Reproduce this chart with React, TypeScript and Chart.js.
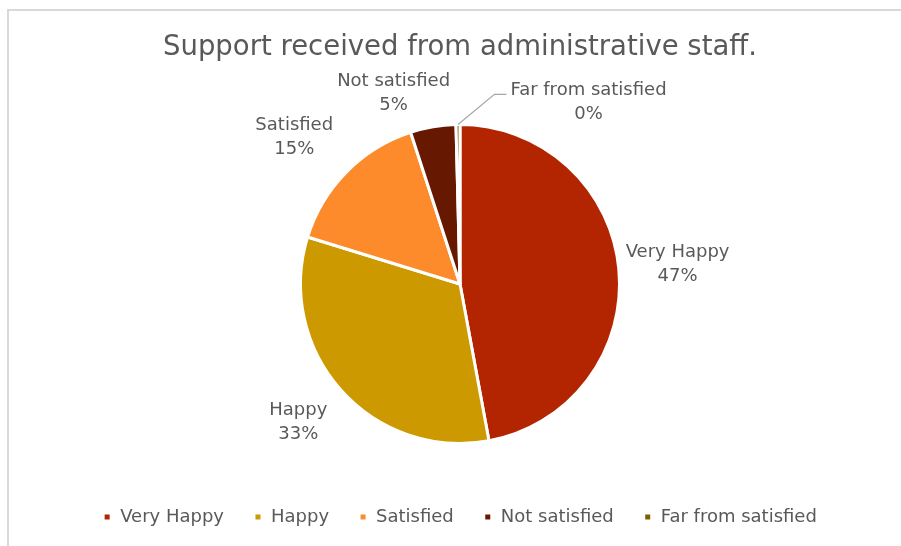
import { useEffect, useRef } from 'react';
import { Chart, registerables } from 'chart.js';

Chart.register(...registerables);

const categories = ['Very Happy', 'Happy', 'Satisfied', 'Not satisfied', 'Far from satisfied'];
const shares = [47, 32.6, 15.2, 4.6, 0.4];
const sliceColors = ['#B32400', '#CC9900', '#FD8A2B', '#661800', '#7F6000'];

// where each data label sits relative to its slice: angle shift (deg) and gap beyond the rim
const labelShift = [0, 1.2, -3, -9.5, 36];
const labelGap = [59, 53, 62, 42, 63];
const leaderLine = [false, false, false, false, true];

const TEXT = '#595959';
const FONT = '"DejaVu Sans", sans-serif';

const outsideLabels = {
  id: 'outsideLabels',
  afterDatasetsDraw(chart: Chart) {
    const { ctx } = chart;
    const meta = chart.getDatasetMeta(0);
    const values = chart.data.datasets[0].data as number[];
    const total = values.reduce((a, b) => a + b, 0);
    ctx.save();
    ctx.font = `18px ${FONT}`;
    ctx.fillStyle = TEXT;
    ctx.textAlign = 'center';
    ctx.textBaseline = 'middle';
    meta.data.forEach((el: any, i) => {
      const { x, y, startAngle, endAngle, outerRadius } = el.getProps(
        ['x', 'y', 'startAngle', 'endAngle', 'outerRadius'],
        true,
      );
      const mid = (startAngle + endAngle) / 2;
      const a = mid + (labelShift[i] * Math.PI) / 180;
      const d = outerRadius + labelGap[i];
      const cx = x + Math.cos(a) * d;
      const cy = y + Math.sin(a) * d;
      const name = String(chart.data.labels![i]);
      const pct = Math.round((values[i] / total) * 100) + '%';
      ctx.fillText(name, cx, cy - 12);
      ctx.fillText(pct, cx, cy + 12);

      if (leaderLine[i]) {
        const w = ctx.measureText(name).width;
        const sx = x + Math.cos(mid) * outerRadius;
        const sy = y + Math.sin(mid) * outerRadius;
        const ex = cx - w / 2 - 4;
        const ey = cy - 8;
        ctx.save();
        ctx.strokeStyle = '#A6A6A6';
        ctx.lineWidth = 1.2;
        ctx.beginPath();
        ctx.moveTo(sx, sy);
        ctx.lineTo(ex - 12, ey);
        ctx.lineTo(ex, ey);
        ctx.stroke();
        ctx.restore();
      }
    });
    ctx.restore();
  },
};

export default function App() {
  const canvasRef = useRef<HTMLCanvasElement>(null);

  useEffect(() => {
    if (!canvasRef.current) return;
    const chart = new Chart(canvasRef.current, {
      type: 'pie',
      data: {
        labels: categories,
        datasets: [
          {
            data: shares,
            backgroundColor: sliceColors,
            borderColor: '#FFFFFF',
            borderWidth: 3,
            hoverOffset: 0,
          },
        ],
      },
      options: {
        responsive: true,
        maintainAspectRatio: false,
        animation: false,
        layout: { padding: { left: 19, right: 0, top: 0, bottom: 10 } },
        plugins: {
          title: {
            display: true,
            text: 'Support received from administrative staff.',
            color: TEXT,
            font: { family: FONT, size: 27.5, weight: 'normal', lineHeight: 1.2 },
            padding: { top: 31, bottom: 59 },
          },
          legend: {
            position: 'bottom',
            title: {
              display: true,
              text: ' ',
              font: { size: 10 },
              padding: { top: 21, bottom: 0 },
            },
            labels: {
              color: TEXT,
              font: { family: FONT, size: 18 },
              boxWidth: 8,
              boxHeight: 8,
              padding: 30,
            },
          },
          tooltip: { enabled: false },
        },
      },
      plugins: [outsideLabels],
    });
    return () => {
      chart.destroy();
    };
  }, []);

  return (
    <div
      style={{
        position: 'fixed',
        left: 0,
        top: 0,
        width: 901,
        height: 546,
        overflow: 'hidden',
        background: '#FFFFFF',
      }}
    >
      <div
        style={{
          position: 'absolute',
          left: 7,
          top: 9,
          width: 920,
          height: 560,
          border: '2px solid #D9D9D9',
        }}
      />
      <div style={{ position: 'absolute', left: 0, top: 0, width: 901, height: 546 }}>
        <canvas ref={canvasRef} />
      </div>
    </div>
  );
}
